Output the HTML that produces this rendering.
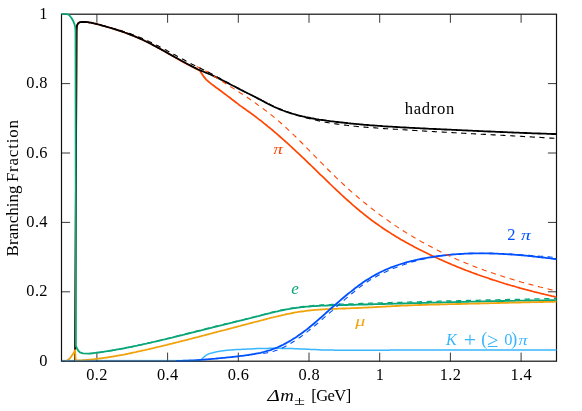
<!DOCTYPE html>
<html><head><meta charset="utf-8"><title>Branching Fraction</title>
<style>html,body{margin:0;padding:0;background:#fff;}svg{display:block;will-change:transform;}body{font-family:"Liberation Serif",serif;}</style></head>
<body>
<svg width="582" height="411" viewBox="0 0 582 411">
<rect width="582" height="411" fill="#fff"/>
<defs><clipPath id="c"><rect x="60.90" y="13.30" width="496.20" height="348.50"/></clipPath></defs>
<path d="M96.9,361.2 v-8.6 M96.9,14.2 v8.6 M167.6,361.2 v-8.6 M167.6,14.2 v8.6 M238.3,361.2 v-8.6 M238.3,14.2 v8.6 M309.0,361.2 v-8.6 M309.0,14.2 v8.6 M379.7,361.2 v-8.6 M379.7,14.2 v8.6 M450.4,361.2 v-8.6 M450.4,14.2 v8.6 M521.1,361.2 v-8.6 M521.1,14.2 v8.6 M61.5,291.8 h8.6 M556.5,291.8 h-8.6 M61.5,222.4 h8.6 M556.5,222.4 h-8.6 M61.5,153.0 h8.6 M556.5,153.0 h-8.6 M61.5,83.6 h8.6 M556.5,83.6 h-8.6" stroke="#222" stroke-width="0.9" fill="none"/>
<rect x="61.5" y="14.2" width="495.0" height="347.0" fill="none" stroke="#111" stroke-width="1.2"/>
<g clip-path="url(#c)" fill="none" stroke-linejoin="round" stroke-linecap="butt">
<path d="M75.1,361.0 L76.6,31.0 L76.8,27.0 L77.0,25.6 L77.5,24.4 L78.2,23.3 L79.1,22.6 L80.2,22.2 L81.6,22.0 L81.6,22.0 L83.1,22.0 L84.7,22.0 L86.2,22.1 L87.7,22.2 L89.3,22.5 L90.8,22.7 L92.3,23.0 L93.9,23.4 L95.4,23.7 L97.0,24.1 L98.5,24.5 L100.0,24.9 L101.6,25.4 L103.1,25.8 L104.6,26.2 L106.2,26.7 L107.7,27.1 L109.2,27.5 L110.8,28.0 L112.3,28.5 L113.8,28.9 L115.4,29.4 L116.9,29.9 L118.4,30.4 L120.0,30.9 L121.5,31.4 L123.0,31.9 L124.6,32.5 L126.1,33.0 L127.7,33.6 L129.2,34.2 L130.7,34.8 L132.3,35.4 L133.8,36.0 L135.3,36.6 L136.9,37.3 L138.4,37.9 L139.9,38.6 L141.5,39.3 L143.0,40.0 L144.5,40.8 L146.1,41.5 L147.6,42.3 L149.1,43.0 L150.7,43.8 L152.2,44.6 L153.7,45.4 L155.3,46.2 L156.8,47.1 L158.4,47.9 L159.9,48.7 L161.4,49.6 L163.0,50.4 L164.5,51.3 L166.0,52.2 L167.6,53.1 L169.1,54.0 L170.6,54.8 L172.2,55.7 L173.7,56.6 L175.2,57.5 L176.8,58.4 L178.3,59.3 L179.8,60.2 L181.4,61.0 L182.9,61.9 L184.4,62.7 L186.0,63.5 L187.5,64.4 L189.1,65.2 L190.6,66.0 L192.1,66.8 L193.7,67.6 L195.2,68.4 L196.7,69.1 L198.3,69.9 L199.8,70.6 L199.9,70.7 L201.5,73.3 L203.4,76.1 L205.4,78.6 L206.8,80.2 L206.8,80.2 L208.4,81.5 L210.0,82.8 L211.6,84.1 L213.2,85.3 L214.8,86.5 L216.4,87.7 L218.0,88.8 L219.6,90.0 L221.2,91.2 L222.8,92.4 L224.5,93.7 L226.1,94.9 L227.7,96.1 L229.3,97.3 L230.9,98.5 L232.5,99.8 L234.1,101.0 L235.7,102.2 L237.3,103.4 L238.9,104.7 L240.5,105.9 L240.5,105.9 L242.0,106.9 L243.5,108.0 L245.0,109.0 L246.5,110.1 L248.1,111.2 L249.6,112.3 L251.1,113.4 L252.6,114.5 L254.1,115.6 L255.6,116.7 L257.1,117.9 L258.6,119.1 L260.2,120.2 L261.7,121.4 L263.2,122.6 L264.7,123.8 L266.2,125.0 L267.7,126.3 L269.2,127.5 L270.7,128.7 L272.3,130.0 L273.8,131.3 L275.3,132.6 L276.8,133.9 L278.3,135.2 L279.8,136.5 L281.3,137.8 L282.8,139.1 L284.3,140.5 L285.9,141.8 L287.4,143.2 L288.9,144.6 L290.4,146.0 L291.9,147.4 L293.4,148.8 L294.9,150.2 L296.4,151.6 L298.0,153.0 L299.5,154.4 L301.0,155.8 L302.5,157.3 L304.0,158.7 L305.5,160.2 L307.0,161.6 L308.5,163.1 L310.1,164.5 L311.6,166.0 L313.1,167.4 L314.6,168.9 L316.1,170.4 L317.6,171.8 L319.1,173.3 L320.6,174.8 L322.1,176.2 L323.7,177.7 L325.2,179.2 L326.7,180.6 L328.2,182.1 L329.7,183.6 L331.2,185.0 L332.7,186.5 L334.2,187.9 L335.8,189.3 L337.3,190.8 L338.8,192.2 L340.3,193.6 L341.8,195.0 L343.3,196.4 L344.8,197.8 L346.3,199.2 L347.8,200.5 L349.4,201.9 L350.9,203.2 L352.4,204.6 L353.9,205.9 L355.4,207.2 L356.9,208.5 L358.4,209.7 L359.9,211.0 L361.5,212.2 L363.0,213.4 L364.5,214.7 L366.0,215.8 L367.5,217.0 L369.0,218.2 L370.5,219.3 L372.0,220.5 L373.6,221.6 L375.1,222.7 L376.6,223.8 L378.1,224.8 L379.6,225.9 L381.1,226.9 L382.6,228.0 L384.1,229.0 L385.6,230.0 L387.2,231.0 L388.7,231.9 L390.2,232.9 L391.7,233.9 L393.2,234.8 L394.7,235.7 L396.2,236.7 L397.7,237.6 L399.3,238.5 L400.8,239.4 L402.3,240.2 L403.8,241.1 L405.3,242.0 L406.8,242.8 L408.3,243.6 L409.8,244.5 L411.4,245.3 L412.9,246.1 L414.4,246.9 L415.9,247.7 L417.4,248.5 L418.9,249.3 L420.4,250.0 L421.9,250.8 L423.4,251.5 L425.0,252.3 L426.5,253.0 L428.0,253.8 L429.5,254.5 L431.0,255.2 L432.5,255.9 L434.0,256.6 L435.5,257.3 L437.1,258.0 L438.6,258.7 L440.1,259.4 L441.6,260.1 L443.1,260.8 L444.6,261.4 L446.1,262.1 L447.6,262.8 L449.2,263.4 L450.7,264.0 L452.2,264.7 L453.7,265.3 L455.2,265.9 L456.7,266.6 L458.2,267.2 L459.7,267.8 L461.2,268.4 L462.8,269.0 L464.3,269.6 L465.8,270.2 L467.3,270.7 L468.8,271.3 L470.3,271.9 L471.8,272.5 L473.3,273.0 L474.9,273.6 L476.4,274.1 L477.9,274.7 L479.4,275.2 L480.9,275.7 L482.4,276.3 L483.9,276.8 L485.4,277.3 L486.9,277.8 L488.5,278.3 L490.0,278.9 L491.5,279.4 L493.0,279.9 L494.5,280.3 L496.0,280.8 L497.5,281.3 L499.0,281.8 L500.6,282.3 L502.1,282.7 L503.6,283.2 L505.1,283.7 L506.6,284.1 L508.1,284.6 L509.6,285.0 L511.1,285.5 L512.7,285.9 L514.2,286.3 L515.7,286.8 L517.2,287.2 L518.7,287.6 L520.2,288.1 L521.7,288.5 L523.2,288.9 L524.7,289.3 L526.3,289.7 L527.8,290.1 L529.3,290.5 L530.8,290.9 L532.3,291.3 L533.8,291.7 L535.3,292.1 L536.8,292.4 L538.4,292.8 L539.9,293.2 L541.4,293.6 L542.9,293.9 L544.4,294.3 L545.9,294.7 L547.4,295.0 L548.9,295.4 L550.5,295.7 L552.0,296.1 L553.5,296.4 L555.0,296.8 L556.5,297.1" stroke="#ff4500" stroke-width="1.7"/>
<path d="M75.1,361.0 L76.6,31.0 L76.8,27.0 L77.0,25.6 L77.5,24.4 L78.2,23.3 L79.1,22.6 L80.2,22.2 L81.6,22.0 L81.6,22.0 L83.1,22.0 L84.7,22.0 L86.2,22.1 L87.7,22.2 L89.3,22.5 L90.8,22.7 L92.3,23.0 L93.9,23.4 L95.4,23.7 L97.0,24.1 L98.5,24.5 L100.0,24.9 L101.6,25.4 L103.1,25.8 L104.6,26.2 L106.2,26.7 L107.7,27.1 L109.2,27.5 L110.8,28.0 L112.3,28.5 L113.8,28.9 L115.4,29.4 L116.9,29.9 L118.4,30.4 L120.0,30.9 L121.5,31.4 L123.0,31.9 L124.6,32.5 L126.1,33.0 L127.7,33.6 L129.2,34.2 L130.7,34.8 L132.3,35.4 L133.8,36.0 L135.3,36.6 L136.9,37.3 L138.4,37.9 L139.9,38.6 L141.5,39.3 L143.0,40.0 L144.5,40.8 L146.1,41.5 L147.6,42.3 L149.1,43.0 L150.7,43.8 L152.2,44.6 L153.7,45.4 L155.3,46.2 L156.8,47.1 L158.4,47.9 L159.9,48.7 L161.4,49.6 L163.0,50.4 L164.5,51.3 L166.0,52.1 L167.6,53.0 L169.1,53.9 L170.6,54.7 L172.2,55.6 L173.7,56.4 L175.2,57.3 L176.8,58.1 L178.3,59.0 L179.8,59.8 L181.4,60.7 L182.9,61.5 L184.4,62.3 L186.0,63.2 L187.5,64.0 L189.1,64.8 L190.6,65.6 L192.1,66.4 L193.7,67.2 L195.2,67.9 L196.7,68.7 L198.3,69.5 L199.8,70.2 L199.8,70.2 L201.3,70.8 L202.8,71.4 L204.3,72.0 L205.8,72.6 L207.4,73.2 L208.9,73.9 L210.4,74.5 L211.9,75.2 L213.4,75.9 L214.9,76.6 L216.4,77.3 L217.9,78.1 L219.4,78.8 L221.0,79.6 L222.5,80.3 L224.0,81.1 L225.5,81.9 L227.0,82.6 L228.5,83.4 L230.0,84.2 L231.5,85.0 L233.1,85.8 L234.6,86.5 L236.1,87.3 L237.6,88.1 L239.1,88.9 L240.6,89.7 L242.1,90.4 L243.6,91.2 L245.1,92.0 L246.7,92.7 L248.2,93.5 L249.7,94.2 L251.2,95.0 L252.7,95.8 L254.2,96.5 L255.7,97.3 L257.2,98.1 L258.7,98.9 L260.3,99.6 L261.8,100.5 L263.3,101.3 L264.8,102.1 L266.3,102.9 L267.8,103.7 L269.3,104.4 L270.8,105.2 L272.3,105.9 L273.9,106.7 L275.4,107.4 L276.9,108.0 L278.4,108.7 L279.9,109.3 L281.4,109.9 L282.9,110.5 L284.4,111.0 L286.0,111.6 L287.5,112.1 L289.0,112.6 L290.5,113.1 L292.0,113.6 L293.5,114.0 L295.0,114.4 L296.5,114.9 L298.0,115.3 L299.6,115.7 L301.1,116.0 L302.6,116.4 L304.1,116.7 L305.6,117.1 L307.1,117.4 L308.6,117.7 L310.1,118.0 L311.6,118.3 L313.2,118.5 L314.7,118.8 L316.2,119.1 L317.7,119.3 L319.2,119.6 L320.7,119.8 L322.2,120.0 L323.7,120.2 L325.2,120.4 L326.8,120.7 L328.3,120.9 L329.8,121.1 L331.3,121.3 L332.8,121.4 L334.3,121.6 L335.8,121.8 L337.3,122.0 L338.9,122.2 L340.4,122.4 L341.9,122.5 L343.4,122.7 L344.9,122.9 L346.4,123.0 L347.9,123.2 L349.4,123.3 L350.9,123.5 L352.5,123.6 L354.0,123.8 L355.5,123.9 L357.0,124.1 L358.5,124.2 L360.0,124.4 L361.5,124.5 L363.0,124.6 L364.5,124.8 L366.1,124.9 L367.6,125.0 L369.1,125.1 L370.6,125.3 L372.1,125.4 L373.6,125.5 L375.1,125.6 L376.6,125.7 L378.1,125.8 L379.7,125.9 L381.2,126.0 L382.7,126.2 L384.2,126.3 L385.7,126.4 L387.2,126.5 L388.7,126.6 L390.2,126.7 L391.8,126.7 L393.3,126.8 L394.8,126.9 L396.3,127.0 L397.8,127.1 L399.3,127.2 L400.8,127.3 L402.3,127.4 L403.8,127.5 L405.4,127.5 L406.9,127.6 L408.4,127.7 L409.9,127.8 L411.4,127.9 L412.9,127.9 L414.4,128.0 L415.9,128.1 L417.4,128.2 L419.0,128.2 L420.5,128.3 L422.0,128.4 L423.5,128.5 L425.0,128.5 L426.5,128.6 L428.0,128.7 L429.5,128.8 L431.1,128.8 L432.6,128.9 L434.1,129.0 L435.6,129.0 L437.1,129.1 L438.6,129.2 L440.1,129.2 L441.6,129.3 L443.1,129.4 L444.7,129.5 L446.2,129.5 L447.7,129.6 L449.2,129.7 L450.7,129.7 L452.2,129.8 L453.7,129.9 L455.2,129.9 L456.7,130.0 L458.3,130.1 L459.8,130.2 L461.3,130.2 L462.8,130.3 L464.3,130.4 L465.8,130.4 L467.3,130.5 L468.8,130.6 L470.3,130.6 L471.9,130.7 L473.4,130.8 L474.9,130.9 L476.4,130.9 L477.9,131.0 L479.4,131.1 L480.9,131.1 L482.4,131.2 L484.0,131.3 L485.5,131.3 L487.0,131.4 L488.5,131.5 L490.0,131.5 L491.5,131.6 L493.0,131.7 L494.5,131.7 L496.0,131.8 L497.6,131.9 L499.1,131.9 L500.6,132.0 L502.1,132.0 L503.6,132.1 L505.1,132.2 L506.6,132.2 L508.1,132.3 L509.6,132.4 L511.2,132.4 L512.7,132.5 L514.2,132.6 L515.7,132.6 L517.2,132.7 L518.7,132.7 L520.2,132.8 L521.7,132.9 L523.2,132.9 L524.8,133.0 L526.3,133.0 L527.8,133.1 L529.3,133.1 L530.8,133.2 L532.3,133.3 L533.8,133.3 L535.3,133.4 L536.9,133.4 L538.4,133.5 L539.9,133.5 L541.4,133.6 L542.9,133.6 L544.4,133.7 L545.9,133.7 L547.4,133.8 L548.9,133.9 L550.5,133.9 L552.0,134.0 L553.5,134.0 L555.0,134.0 L556.5,134.1" stroke="#000" stroke-width="1.8"/>
<path d="M61.5,13.9 L66.7,13.9 L68.0,14.4 L69.3,15.2 L71.3,17.7 L73.1,20.8 L74.4,23.9 L75.2,27.0 L75.5,30.6 L75.9,345.9 L76.4,347.3 L77.1,348.5 L78.1,350.5 L79.9,352.3 L83.0,353.4 L89.2,353.6 L89.2,353.6 L90.7,353.4 L92.2,353.3 L93.7,353.1 L95.2,352.9 L96.7,352.7 L98.2,352.5 L99.8,352.3 L101.3,352.1 L102.8,351.9 L104.3,351.7 L105.8,351.4 L107.3,351.2 L108.8,351.0 L110.3,350.7 L111.8,350.5 L113.3,350.2 L114.8,350.0 L116.3,349.7 L117.8,349.4 L119.3,349.2 L120.9,348.9 L122.4,348.6 L123.9,348.3 L125.4,348.0 L126.9,347.7 L128.4,347.4 L129.9,347.1 L131.4,346.8 L132.9,346.5 L134.4,346.2 L135.9,345.9 L137.4,345.6 L138.9,345.2 L140.5,344.9 L142.0,344.6 L143.5,344.2 L145.0,343.9 L146.5,343.6 L148.0,343.2 L149.5,342.9 L151.0,342.6 L152.5,342.2 L154.0,341.9 L155.5,341.5 L157.0,341.2 L158.5,340.8 L160.0,340.5 L161.6,340.1 L163.1,339.7 L164.6,339.4 L166.1,339.0 L167.6,338.7 L169.1,338.3 L170.6,337.9 L172.1,337.6 L173.6,337.2 L175.1,336.8 L176.6,336.5 L178.1,336.1 L179.6,335.7 L181.2,335.3 L182.7,335.0 L184.2,334.6 L185.7,334.2 L187.2,333.8 L188.7,333.5 L190.2,333.1 L191.7,332.7 L193.2,332.3 L194.7,332.0 L196.2,331.6 L197.7,331.2 L199.2,330.8 L200.7,330.5 L202.3,330.1 L203.8,329.7 L205.3,329.3 L206.8,328.9 L208.3,328.6 L209.8,328.2 L211.3,327.8 L212.8,327.4 L214.3,327.0 L215.8,326.7 L217.3,326.3 L218.8,325.9 L220.3,325.5 L221.9,325.2 L223.4,324.8 L224.9,324.4 L226.4,324.1 L227.9,323.7 L229.4,323.3 L230.9,322.9 L232.4,322.6 L233.9,322.2 L235.4,321.8 L236.9,321.4 L238.4,321.1 L239.9,320.7 L241.4,320.3 L243.0,320.0 L244.5,319.6 L246.0,319.2 L247.5,318.8 L249.0,318.4 L250.5,318.1 L252.0,317.7 L253.5,317.3 L255.0,316.9 L256.5,316.5 L258.0,316.2 L259.5,315.8 L261.0,315.4 L262.6,315.0 L264.1,314.6 L265.6,314.2 L267.1,313.8 L268.6,313.5 L270.1,313.1 L271.6,312.7 L273.1,312.3 L274.6,312.0 L276.1,311.6 L277.6,311.3 L279.1,310.9 L280.6,310.6 L282.1,310.3 L283.7,310.0 L285.2,309.7 L286.7,309.4 L288.2,309.1 L289.7,308.9 L291.2,308.6 L292.7,308.4 L294.2,308.2 L295.7,308.0 L297.2,307.7 L298.7,307.6 L300.2,307.4 L301.7,307.2 L303.3,307.0 L304.8,306.9 L306.3,306.7 L307.8,306.6 L309.3,306.5 L310.8,306.4 L312.3,306.2 L313.8,306.1 L315.3,306.1 L316.8,306.0 L318.3,305.9 L319.8,305.8 L321.3,305.7 L322.9,305.7 L324.4,305.6 L325.9,305.6 L327.4,305.5 L328.9,305.4 L330.4,305.4 L331.9,305.4 L333.4,305.3 L334.9,305.3 L336.4,305.2 L337.9,305.2 L339.4,305.2 L340.9,305.1 L342.4,305.1 L344.0,305.0 L345.5,305.0 L347.0,305.0 L348.5,304.9 L350.0,304.9 L351.5,304.8 L353.0,304.8 L354.5,304.8 L356.0,304.7 L357.5,304.7 L359.0,304.7 L360.5,304.6 L362.0,304.6 L363.6,304.5 L365.1,304.5 L366.6,304.5 L368.1,304.4 L369.6,304.4 L371.1,304.3 L372.6,304.3 L374.1,304.2 L375.6,304.2 L377.1,304.2 L378.6,304.1 L380.1,304.1 L381.6,304.0 L383.1,304.0 L384.7,304.0 L386.2,303.9 L387.7,303.9 L389.2,303.8 L390.7,303.8 L392.2,303.8 L393.7,303.7 L395.2,303.7 L396.7,303.6 L398.2,303.6 L399.7,303.6 L401.2,303.5 L402.7,303.5 L404.3,303.4 L405.8,303.4 L407.3,303.3 L408.8,303.3 L410.3,303.3 L411.8,303.2 L413.3,303.2 L414.8,303.1 L416.3,303.1 L417.8,303.1 L419.3,303.0 L420.8,303.0 L422.3,302.9 L423.8,302.9 L425.4,302.9 L426.9,302.8 L428.4,302.8 L429.9,302.7 L431.4,302.7 L432.9,302.7 L434.4,302.6 L435.9,302.6 L437.4,302.5 L438.9,302.5 L440.4,302.5 L441.9,302.4 L443.4,302.4 L445.0,302.3 L446.5,302.3 L448.0,302.3 L449.5,302.2 L451.0,302.2 L452.5,302.1 L454.0,302.1 L455.5,302.1 L457.0,302.0 L458.5,302.0 L460.0,302.0 L461.5,301.9 L463.0,301.9 L464.5,301.8 L466.1,301.8 L467.6,301.8 L469.1,301.7 L470.6,301.7 L472.1,301.7 L473.6,301.6 L475.1,301.6 L476.6,301.6 L478.1,301.5 L479.6,301.5 L481.1,301.4 L482.6,301.4 L484.1,301.4 L485.7,301.3 L487.2,301.3 L488.7,301.3 L490.2,301.2 L491.7,301.2 L493.2,301.2 L494.7,301.1 L496.2,301.1 L497.7,301.1 L499.2,301.1 L500.7,301.0 L502.2,301.0 L503.7,301.0 L505.2,300.9 L506.8,300.9 L508.3,300.9 L509.8,300.8 L511.3,300.8 L512.8,300.8 L514.3,300.8 L515.8,300.7 L517.3,300.7 L518.8,300.7 L520.3,300.6 L521.8,300.6 L523.3,300.6 L524.8,300.6 L526.4,300.5 L527.9,300.5 L529.4,300.5 L530.9,300.5 L532.4,300.4 L533.9,300.4 L535.4,300.4 L536.9,300.4 L538.4,300.3 L539.9,300.3 L541.4,300.3 L542.9,300.3 L544.4,300.3 L545.9,300.2 L547.5,300.2 L549.0,300.2 L550.5,300.2 L552.0,300.2 L553.5,300.1 L555.0,300.1 L556.5,300.1" stroke="#0aa678" stroke-width="1.8"/>
<path d="M66.5,361.0 L68.5,359.6 L70.5,357.6 L73.0,354.1 L75.1,350.1 L75.7,360.3 L80.0,360.4 L80.0,360.4 L81.5,360.3 L83.0,360.2 L84.5,360.1 L86.0,360.0 L87.5,359.9 L89.0,359.7 L90.6,359.6 L92.1,359.4 L93.6,359.3 L95.1,359.1 L96.6,358.9 L98.1,358.7 L99.6,358.5 L101.1,358.3 L102.6,358.1 L104.1,357.9 L105.6,357.7 L107.1,357.5 L108.7,357.2 L110.2,357.0 L111.7,356.7 L113.2,356.5 L114.7,356.2 L116.2,356.0 L117.7,355.7 L119.2,355.4 L120.7,355.1 L122.2,354.8 L123.7,354.6 L125.2,354.3 L126.7,354.0 L128.3,353.7 L129.8,353.3 L131.3,353.0 L132.8,352.7 L134.3,352.4 L135.8,352.1 L137.3,351.7 L138.8,351.4 L140.3,351.1 L141.8,350.7 L143.3,350.4 L144.8,350.1 L146.3,349.7 L147.9,349.4 L149.4,349.0 L150.9,348.7 L152.4,348.3 L153.9,348.0 L155.4,347.6 L156.9,347.2 L158.4,346.9 L159.9,346.5 L161.4,346.2 L162.9,345.8 L164.4,345.4 L166.0,345.1 L167.5,344.7 L169.0,344.3 L170.5,343.9 L172.0,343.6 L173.5,343.2 L175.0,342.8 L176.5,342.4 L178.0,342.1 L179.5,341.7 L181.0,341.3 L182.5,340.9 L184.0,340.5 L185.6,340.2 L187.1,339.8 L188.6,339.4 L190.1,339.0 L191.6,338.6 L193.1,338.2 L194.6,337.8 L196.1,337.4 L197.6,337.1 L199.1,336.7 L200.6,336.3 L202.1,335.9 L203.6,335.5 L205.2,335.1 L206.7,334.7 L208.2,334.3 L209.7,333.9 L211.2,333.5 L212.7,333.1 L214.2,332.7 L215.7,332.3 L217.2,331.9 L218.7,331.5 L220.2,331.1 L221.7,330.7 L223.3,330.4 L224.8,330.0 L226.3,329.6 L227.8,329.2 L229.3,328.8 L230.8,328.4 L232.3,328.0 L233.8,327.6 L235.3,327.2 L236.8,326.8 L238.3,326.4 L239.8,326.0 L241.3,325.6 L242.9,325.2 L244.4,324.8 L245.9,324.4 L247.4,324.0 L248.9,323.6 L250.4,323.2 L251.9,322.8 L253.4,322.4 L254.9,322.0 L256.4,321.6 L257.9,321.3 L259.4,320.9 L260.9,320.5 L262.5,320.1 L264.0,319.7 L265.5,319.3 L267.0,318.9 L268.5,318.5 L270.0,318.1 L271.5,317.7 L273.0,317.4 L274.5,317.0 L276.0,316.6 L277.5,316.3 L279.0,315.9 L280.6,315.6 L282.1,315.2 L283.6,314.9 L285.1,314.5 L286.6,314.2 L288.1,313.9 L289.6,313.6 L291.1,313.3 L292.6,313.0 L294.1,312.7 L295.6,312.4 L297.1,312.2 L298.6,311.9 L300.2,311.7 L301.7,311.5 L303.2,311.3 L304.7,311.1 L306.2,310.9 L307.7,310.7 L309.2,310.5 L310.7,310.4 L312.2,310.2 L313.7,310.1 L315.2,309.9 L316.7,309.8 L318.2,309.7 L319.8,309.6 L321.3,309.5 L322.8,309.4 L324.3,309.3 L325.8,309.2 L327.3,309.1 L328.8,309.1 L330.3,309.0 L331.8,308.9 L333.3,308.9 L334.8,308.8 L336.3,308.8 L337.9,308.7 L339.4,308.6 L340.9,308.6 L342.4,308.5 L343.9,308.5 L345.4,308.5 L346.9,308.4 L348.4,308.4 L349.9,308.3 L351.4,308.2 L352.9,308.2 L354.4,308.1 L355.9,308.1 L357.5,308.0 L359.0,307.9 L360.5,307.9 L362.0,307.8 L363.5,307.7 L365.0,307.7 L366.5,307.6 L368.0,307.5 L369.5,307.4 L371.0,307.4 L372.5,307.3 L374.0,307.2 L375.6,307.1 L377.1,307.0 L378.6,306.9 L380.1,306.9 L381.6,306.8 L383.1,306.7 L384.6,306.6 L386.1,306.5 L387.6,306.4 L389.1,306.3 L390.6,306.3 L392.1,306.2 L393.6,306.1 L395.2,306.0 L396.7,306.0 L398.2,305.9 L399.7,305.8 L401.2,305.7 L402.7,305.7 L404.2,305.6 L405.7,305.5 L407.2,305.5 L408.7,305.4 L410.2,305.3 L411.7,305.3 L413.2,305.2 L414.8,305.2 L416.3,305.1 L417.8,305.1 L419.3,305.0 L420.8,305.0 L422.3,304.9 L423.8,304.9 L425.3,304.8 L426.8,304.8 L428.3,304.7 L429.8,304.7 L431.3,304.7 L432.9,304.6 L434.4,304.6 L435.9,304.5 L437.4,304.5 L438.9,304.5 L440.4,304.4 L441.9,304.4 L443.4,304.4 L444.9,304.3 L446.4,304.3 L447.9,304.2 L449.4,304.2 L450.9,304.2 L452.5,304.1 L454.0,304.1 L455.5,304.1 L457.0,304.0 L458.5,304.0 L460.0,304.0 L461.5,303.9 L463.0,303.9 L464.5,303.9 L466.0,303.8 L467.5,303.8 L469.0,303.7 L470.5,303.7 L472.1,303.7 L473.6,303.6 L475.1,303.6 L476.6,303.6 L478.1,303.5 L479.6,303.5 L481.1,303.4 L482.6,303.4 L484.1,303.4 L485.6,303.3 L487.1,303.3 L488.6,303.3 L490.2,303.2 L491.7,303.2 L493.2,303.1 L494.7,303.1 L496.2,303.1 L497.7,303.0 L499.2,303.0 L500.7,302.9 L502.2,302.9 L503.7,302.9 L505.2,302.8 L506.7,302.8 L508.2,302.8 L509.8,302.7 L511.3,302.7 L512.8,302.6 L514.3,302.6 L515.8,302.6 L517.3,302.5 L518.8,302.5 L520.3,302.5 L521.8,302.4 L523.3,302.4 L524.8,302.4 L526.3,302.3 L527.8,302.3 L529.4,302.3 L530.9,302.2 L532.4,302.2 L533.9,302.2 L535.4,302.1 L536.9,302.1 L538.4,302.1 L539.9,302.0 L541.4,302.0 L542.9,302.0 L544.4,301.9 L545.9,301.9 L547.5,301.9 L549.0,301.8 L550.5,301.8 L552.0,301.8 L553.5,301.8 L555.0,301.7 L556.5,301.7" stroke="#f0a30a" stroke-width="1.8"/>
<path d="M200.7,360.3 L201.7,359.1 L202.7,358.2 L203.7,357.3 L204.7,356.4 L205.7,355.5 L206.7,354.8 L207.7,354.3 L208.7,353.9 L209.7,353.5 L210.8,353.2 L211.8,352.9 L212.8,352.7 L213.8,352.4 L214.8,352.2 L215.8,351.9 L216.8,351.7 L217.8,351.6 L218.8,351.4 L219.8,351.2 L220.8,351.1 L221.8,350.9 L222.8,350.8 L223.8,350.7 L224.8,350.6 L225.8,350.5 L226.8,350.3 L227.8,350.2 L228.8,350.2 L229.8,350.1 L230.9,350.0 L231.9,349.9 L232.9,349.8 L233.9,349.7 L234.9,349.7 L235.9,349.6 L236.9,349.5 L237.9,349.5 L238.9,349.4 L239.9,349.4 L240.9,349.4 L241.9,349.3 L242.9,349.3 L243.9,349.2 L244.9,349.2 L245.9,349.2 L246.9,349.1 L247.9,349.1 L248.9,349.0 L249.9,349.0 L251.0,348.9 L252.0,348.9 L253.0,348.8 L254.0,348.8 L255.0,348.7 L256.0,348.6 L257.0,348.6 L258.0,348.6 L259.0,348.5 L260.0,348.5 L261.0,348.5 L262.0,348.5 L263.0,348.4 L264.0,348.4 L265.0,348.4 L266.0,348.4 L267.0,348.4 L268.0,348.4 L269.0,348.3 L270.1,348.3 L271.1,348.3 L272.1,348.3 L273.1,348.3 L274.1,348.3 L275.1,348.3 L276.1,348.3 L277.1,348.3 L278.1,348.3 L279.1,348.3 L280.1,348.3 L281.1,348.4 L282.1,348.4 L283.1,348.4 L284.1,348.4 L285.1,348.4 L286.1,348.5 L287.1,348.5 L288.1,348.5 L289.1,348.5 L290.2,348.6 L291.2,348.6 L292.2,348.6 L293.2,348.6 L294.2,348.7 L295.2,348.7 L296.2,348.8 L297.2,348.8 L298.2,348.8 L299.2,348.9 L300.2,348.9 L301.2,349.0 L302.2,349.0 L303.2,349.1 L304.2,349.1 L305.2,349.1 L306.2,349.2 L307.2,349.2 L308.2,349.3 L309.2,349.3 L310.3,349.4 L311.3,349.4 L312.3,349.5 L313.3,349.5 L314.3,349.6 L315.3,349.6 L316.3,349.6 L317.3,349.7 L318.3,349.7 L319.3,349.8 L320.3,349.8 L321.3,349.9 L322.3,349.9 L323.3,349.9 L324.3,350.0 L325.3,350.0 L326.3,350.0 L327.3,350.0 L328.3,350.1 L329.4,350.1 L330.4,350.1 L331.4,350.1 L332.4,350.1 L333.4,350.1 L334.4,350.2 L335.4,350.2 L336.4,350.2 L337.4,350.2 L338.4,350.2 L339.4,350.2 L340.4,350.2 L341.4,350.2 L342.4,350.2 L343.4,350.2 L344.4,350.2 L345.4,350.2 L346.4,350.2 L347.4,350.2 L348.4,350.2 L349.5,350.2 L350.5,350.2 L351.5,350.2 L352.5,350.2 L353.5,350.2 L354.5,350.2 L355.5,350.2 L356.5,350.2 L357.5,350.2 L358.5,350.2 L359.5,350.2 L360.5,350.2 L361.5,350.2 L362.5,350.2 L363.5,350.2 L364.5,350.2 L365.5,350.2 L366.5,350.2 L367.5,350.2 L368.5,350.2 L369.6,350.2 L370.6,350.2 L371.6,350.2 L372.6,350.2 L373.6,350.2 L374.6,350.2 L375.6,350.2 L376.6,350.2 L377.6,350.2 L378.6,350.2 L379.6,350.2 L380.6,350.2 L381.6,350.2 L382.6,350.2 L383.6,350.2 L384.6,350.2 L385.6,350.2 L386.6,350.2 L387.6,350.2 L388.7,350.2 L389.7,350.2 L390.7,350.1 L391.7,350.1 L392.7,350.1 L393.7,350.1 L394.7,350.1 L395.7,350.1 L396.7,350.1 L397.7,350.1 L398.7,350.1 L399.7,350.1 L400.7,350.1 L401.7,350.1 L402.7,350.1 L403.7,350.1 L404.7,350.1 L405.7,350.1 L406.7,350.1 L407.7,350.1 L408.8,350.1 L409.8,350.1 L410.8,350.1 L411.8,350.1 L412.8,350.1 L413.8,350.1 L414.8,350.1 L415.8,350.1 L416.8,350.1 L417.8,350.1 L418.8,350.1 L419.8,350.1 L420.8,350.1 L421.8,350.1 L422.8,350.1 L423.8,350.1 L424.8,350.1 L425.8,350.1 L426.8,350.1 L427.8,350.1 L428.9,350.1 L429.9,350.1 L430.9,350.1 L431.9,350.1 L432.9,350.1 L433.9,350.1 L434.9,350.1 L435.9,350.1 L436.9,350.1 L437.9,350.1 L438.9,350.1 L439.9,350.1 L440.9,350.1 L441.9,350.1 L442.9,350.1 L443.9,350.1 L444.9,350.1 L445.9,350.1 L446.9,350.1 L448.0,350.1 L449.0,350.1 L450.0,350.1 L451.0,350.1 L452.0,350.1 L453.0,350.1 L454.0,350.1 L455.0,350.1 L456.0,350.1 L457.0,350.1 L458.0,350.1 L459.0,350.1 L460.0,350.1 L461.0,350.1 L462.0,350.1 L463.0,350.1 L464.0,350.1 L465.0,350.1 L466.0,350.1 L467.0,350.1 L468.1,350.1 L469.1,350.1 L470.1,350.1 L471.1,350.1 L472.1,350.1 L473.1,350.1 L474.1,350.1 L475.1,350.1 L476.1,350.1 L477.1,350.1 L478.1,350.1 L479.1,350.1 L480.1,350.1 L481.1,350.1 L482.1,350.1 L483.1,350.1 L484.1,350.1 L485.1,350.1 L486.1,350.1 L487.1,350.1 L488.2,350.1 L489.2,350.1 L490.2,350.1 L491.2,350.1 L492.2,350.1 L493.2,350.1 L494.2,350.1 L495.2,350.1 L496.2,350.1 L497.2,350.1 L498.2,350.1 L499.2,350.1 L500.2,350.1 L501.2,350.1 L502.2,350.1 L503.2,350.1 L504.2,350.1 L505.2,350.1 L506.2,350.1 L507.3,350.1 L508.3,350.1 L509.3,350.1 L510.3,350.1 L511.3,350.1 L512.3,350.1 L513.3,350.1 L514.3,350.1 L515.3,350.1 L516.3,350.1 L517.3,350.1 L518.3,350.1 L519.3,350.1 L520.3,350.1 L521.3,350.1 L522.3,350.1 L523.3,350.1 L524.3,350.1 L525.3,350.1 L526.3,350.1 L527.4,350.1 L528.4,350.1 L529.4,350.1 L530.4,350.1 L531.4,350.1 L532.4,350.1 L533.4,350.1 L534.4,350.1 L535.4,350.1 L536.4,350.1 L537.4,350.1 L538.4,350.1 L539.4,350.1 L540.4,350.1 L541.4,350.1 L542.4,350.1 L543.4,350.1 L544.4,350.1 L545.4,350.1 L546.4,350.1 L547.5,350.1 L548.5,350.1 L549.5,350.1 L550.5,350.1 L551.5,350.1 L552.5,350.1 L553.5,350.1 L554.5,350.1 L555.5,350.1 L556.5,350.1" stroke="#38b6ff" stroke-width="1.5"/>
<path d="M176.0,360.9 L177.5,360.9 L179.0,360.8 L180.5,360.8 L182.0,360.8 L183.5,360.7 L185.1,360.7 L186.6,360.6 L188.1,360.6 L189.6,360.5 L191.1,360.4 L192.6,360.4 L194.1,360.3 L195.6,360.2 L197.1,360.1 L198.6,360.0 L200.2,359.9 L201.7,359.8 L203.2,359.7 L204.7,359.6 L206.2,359.4 L207.7,359.3 L209.2,359.2 L210.7,359.1 L212.2,358.9 L213.7,358.8 L215.3,358.7 L216.8,358.5 L218.3,358.4 L219.8,358.2 L221.3,358.1 L222.8,357.9 L224.3,357.8 L225.8,357.6 L227.3,357.4 L228.8,357.3 L230.4,357.1 L231.9,357.0 L233.4,356.8 L234.9,356.6 L236.4,356.5 L237.9,356.3 L239.4,356.1 L240.9,355.9 L242.4,355.8 L243.9,355.6 L245.5,355.4 L247.0,355.2 L248.5,355.0 L250.0,354.7 L251.5,354.5 L253.0,354.2 L254.5,354.0 L256.0,353.7 L257.5,353.4 L259.0,353.1 L260.6,352.8 L262.1,352.4 L263.6,352.0 L265.1,351.6 L266.6,351.2 L268.1,350.7 L269.6,350.3 L271.1,349.8 L272.6,349.2 L274.1,348.7 L275.7,348.1 L277.2,347.5 L278.7,346.8 L280.2,346.1 L281.7,345.4 L283.2,344.7 L284.7,343.9 L286.2,343.1 L287.7,342.2 L289.2,341.4 L290.8,340.5 L292.3,339.6 L293.8,338.6 L295.3,337.7 L296.8,336.7 L298.3,335.6 L299.8,334.6 L301.3,333.5 L302.8,332.4 L304.3,331.3 L305.9,330.1 L307.4,329.0 L308.9,327.8 L310.4,326.5 L311.9,325.3 L313.4,324.0 L314.9,322.7 L316.4,321.4 L317.9,320.1 L319.4,318.8 L321.0,317.5 L322.5,316.1 L324.0,314.8 L325.5,313.4 L327.0,312.0 L328.5,310.7 L330.0,309.3 L331.5,308.0 L333.0,306.7 L334.5,305.3 L336.1,304.0 L337.6,302.7 L339.1,301.4 L340.6,300.1 L342.1,298.8 L343.6,297.5 L345.1,296.3 L346.6,295.0 L348.1,293.8 L349.6,292.6 L351.2,291.4 L352.7,290.2 L354.2,289.0 L355.7,287.8 L357.2,286.7 L358.7,285.6 L360.2,284.5 L361.7,283.4 L363.2,282.3 L364.7,281.3 L366.2,280.3 L367.8,279.4 L369.3,278.4 L370.8,277.5 L372.3,276.6 L373.8,275.7 L375.3,274.9 L376.8,274.1 L378.3,273.3 L379.8,272.5 L381.3,271.7 L382.9,271.0 L384.4,270.3 L385.9,269.6 L387.4,269.0 L388.9,268.4 L390.4,267.7 L391.9,267.1 L393.4,266.6 L394.9,266.0 L396.4,265.5 L398.0,265.0 L399.5,264.5 L401.0,264.0 L402.5,263.5 L404.0,263.1 L405.5,262.6 L407.0,262.2 L408.5,261.8 L410.0,261.4 L411.5,261.0 L413.1,260.7 L414.6,260.3 L416.1,260.0 L417.6,259.6 L419.1,259.3 L420.6,259.0 L422.1,258.7 L423.6,258.4 L425.1,258.1 L426.6,257.9 L428.2,257.6 L429.7,257.3 L431.2,257.1 L432.7,256.9 L434.2,256.6 L435.7,256.4 L437.2,256.2 L438.7,256.0 L440.2,255.8 L441.7,255.6 L443.3,255.4 L444.8,255.3 L446.3,255.1 L447.8,254.9 L449.3,254.8 L450.8,254.6 L452.3,254.5 L453.8,254.4 L455.3,254.3 L456.8,254.2 L458.4,254.1 L459.9,254.0 L461.4,253.9 L462.9,253.8 L464.4,253.7 L465.9,253.7 L467.4,253.6 L468.9,253.5 L470.4,253.5 L471.9,253.5 L473.5,253.4 L475.0,253.4 L476.5,253.4 L478.0,253.4 L479.5,253.4 L481.0,253.4 L482.5,253.4 L484.0,253.4 L485.5,253.4 L487.0,253.4 L488.6,253.4 L490.1,253.5 L491.6,253.5 L493.1,253.6 L494.6,253.6 L496.1,253.7 L497.6,253.7 L499.1,253.8 L500.6,253.9 L502.1,253.9 L503.7,254.0 L505.2,254.1 L506.7,254.2 L508.2,254.3 L509.7,254.4 L511.2,254.5 L512.7,254.6 L514.2,254.7 L515.7,254.8 L517.2,254.9 L518.8,255.1 L520.3,255.2 L521.8,255.3 L523.3,255.4 L524.8,255.6 L526.3,255.7 L527.8,255.9 L529.3,256.0 L530.8,256.2 L532.3,256.3 L533.9,256.5 L535.4,256.7 L536.9,256.8 L538.4,257.0 L539.9,257.2 L541.4,257.3 L542.9,257.5 L544.4,257.7 L545.9,257.9 L547.4,258.1 L549.0,258.2 L550.5,258.4 L552.0,258.6 L553.5,258.8 L555.0,259.0 L556.5,259.2" stroke="#0050ff" stroke-width="1.8"/>
<path d="M196.7,66.5 L198.3,67.3 L199.8,68.0 L199.8,68.0 L201.3,68.7 L202.8,69.4 L204.3,70.1 L205.8,70.9 L207.4,71.6 L208.9,72.4 L210.0,73.6 L211.5,74.6 L213.0,75.6 L214.5,76.5 L216.0,77.5 L217.5,78.4 L219.0,79.4 L220.5,80.3 L222.1,81.3 L223.6,82.2 L225.1,83.2 L226.6,84.1 L228.1,85.1 L229.6,86.0 L231.1,87.0 L232.6,87.9 L234.1,88.9 L235.6,89.8 L237.1,90.8 L238.6,91.8 L240.1,92.8 L241.6,93.7 L243.1,94.7 L244.7,95.7 L246.2,96.7 L247.7,97.7 L249.2,98.7 L250.7,99.8 L252.2,100.8 L253.7,101.9 L255.2,102.9 L256.7,104.0 L258.2,105.1 L259.7,106.1 L261.2,107.2 L262.7,108.4 L264.2,109.5 L265.7,110.6 L267.2,111.8 L268.8,113.0 L270.3,114.2 L271.8,115.4 L273.3,116.6 L274.8,117.8 L276.3,119.1 L277.8,120.4 L279.3,121.7 L280.8,123.0 L282.3,124.3 L283.8,125.7 L285.3,127.0 L286.8,128.4 L288.3,129.8 L289.8,131.3 L291.4,132.7 L292.9,134.1 L294.4,135.6 L295.9,137.0 L297.4,138.5 L298.9,140.0 L300.4,141.5 L301.9,143.0 L303.4,144.5 L304.9,146.0 L306.4,147.6 L307.9,149.1 L309.4,150.6 L310.9,152.1 L312.4,153.7 L313.9,155.2 L315.5,156.8 L317.0,158.3 L318.5,159.8 L320.0,161.4 L321.5,162.9 L323.0,164.4 L324.5,165.9 L326.0,167.5 L327.5,169.0 L329.0,170.5 L330.5,172.0 L332.0,173.5 L333.5,175.0 L335.0,176.4 L336.5,177.9 L338.1,179.3 L339.6,180.8 L341.1,182.2 L342.6,183.6 L344.1,185.0 L345.6,186.4 L347.1,187.8 L348.6,189.1 L350.1,190.5 L351.6,191.8 L353.1,193.1 L354.6,194.4 L356.1,195.7 L357.6,197.0 L359.1,198.3 L360.7,199.6 L362.2,200.8 L363.7,202.1 L365.2,203.3 L366.7,204.5 L368.2,205.7 L369.7,206.9 L371.2,208.1 L372.7,209.3 L374.2,210.4 L375.7,211.6 L377.2,212.7 L378.7,213.9 L380.2,215.0 L381.7,216.1 L383.2,217.2 L384.8,218.3 L386.3,219.3 L387.8,220.4 L389.3,221.5 L390.8,222.5 L392.3,223.5 L393.8,224.6 L395.3,225.6 L396.8,226.6 L398.3,227.6 L399.8,228.6 L401.3,229.5 L402.8,230.5 L404.3,231.5 L405.8,232.4 L407.4,233.3 L408.9,234.3 L410.4,235.2 L411.9,236.1 L413.4,237.0 L414.9,237.9 L416.4,238.8 L417.9,239.6 L419.4,240.5 L420.9,241.4 L422.4,242.2 L423.9,243.0 L425.4,243.9 L426.9,244.7 L428.4,245.5 L430.0,246.3 L431.5,247.1 L433.0,247.9 L434.5,248.7 L436.0,249.4 L437.5,250.2 L439.0,250.9 L440.5,251.7 L442.0,252.4 L443.5,253.2 L445.0,253.9 L446.5,254.6 L448.0,255.3 L449.5,256.0 L451.0,256.7 L452.6,257.4 L454.1,258.0 L455.6,258.7 L457.1,259.4 L458.6,260.0 L460.1,260.7 L461.6,261.3 L463.1,262.0 L464.6,262.6 L466.1,263.2 L467.6,263.8 L469.1,264.4 L470.6,265.0 L472.1,265.6 L473.6,266.2 L475.1,266.8 L476.7,267.4 L478.2,267.9 L479.7,268.5 L481.2,269.1 L482.7,269.6 L484.2,270.2 L485.7,270.7 L487.2,271.2 L488.7,271.8 L490.2,272.3 L491.7,272.8 L493.2,273.3 L494.7,273.8 L496.2,274.3 L497.7,274.8 L499.3,275.3 L500.8,275.8 L502.3,276.3 L503.8,276.8 L505.3,277.3 L506.8,277.7 L508.3,278.2 L509.8,278.6 L511.3,279.1 L512.8,279.5 L514.3,280.0 L515.8,280.4 L517.3,280.9 L518.8,281.3 L520.3,281.7 L521.9,282.2 L523.4,282.6 L524.9,283.0 L526.4,283.4 L527.9,283.8 L529.4,284.2 L530.9,284.6 L532.4,285.0 L533.9,285.4 L535.4,285.8 L536.9,286.2 L538.4,286.6 L539.9,287.0 L541.4,287.3 L542.9,287.7 L544.4,288.1 L546.0,288.5 L547.5,288.8 L549.0,289.2 L550.5,289.6 L552.0,289.9 L553.5,290.3 L555.0,290.6 L556.5,291.0" stroke="#ff4500" stroke-width="1.1" stroke-dasharray="5.2 4.6"/>
<path d="M81.6,22.0 L83.1,22.0 L84.7,22.0 L86.2,22.1 L87.7,22.2 L89.3,22.5 L90.8,22.7 L92.3,23.0 L93.9,23.4 L95.4,23.7 L97.0,24.1 L98.5,24.5 L100.0,24.9 L101.6,25.3 L103.1,25.7 L104.6,26.1 L106.2,26.5 L107.7,26.9 L109.2,27.3 L110.8,27.7 L112.3,28.1 L113.8,28.5 L115.4,28.9 L116.9,29.4 L118.4,29.8 L120.0,30.3 L121.5,30.8 L123.0,31.3 L124.6,31.7 L126.1,32.2 L127.7,32.8 L129.2,33.3 L130.7,33.8 L132.3,34.4 L133.8,35.0 L135.3,35.6 L136.9,36.2 L138.4,36.8 L139.9,37.4 L141.5,38.0 L143.0,38.7 L144.5,39.4 L146.1,40.1 L147.6,40.8 L149.1,41.5 L150.7,42.2 L152.2,43.0 L153.7,43.7 L155.3,44.5 L156.8,45.3 L158.4,46.1 L159.9,46.9 L161.4,47.7 L163.0,48.5 L164.5,49.3 L166.0,50.1 L167.6,51.0 L169.1,51.8 L170.6,52.6 L172.2,53.5 L173.7,54.3 L175.2,55.1 L176.8,56.0 L178.3,56.8 L179.8,57.6 L181.4,58.5 L182.9,59.3 L184.4,60.1 L186.0,61.0 L187.5,61.8 L189.1,62.6 L190.6,63.4 L192.1,64.2 L193.7,65.0 L195.2,65.7 L196.7,66.5 L198.3,67.3 L199.8,68.0 L199.8,68.0 L201.3,68.7 L202.8,69.4 L204.3,70.1 L205.8,70.9 L207.4,71.6 L208.9,72.4 L210.4,73.2 L211.9,74.0 L213.4,74.8 L214.9,75.6 L216.4,76.4 L217.9,77.3 L219.4,78.1 L221.0,79.0 L222.5,79.8 L224.0,80.6 L225.5,81.4 L227.0,82.2 L228.5,83.0 L230.0,83.9 L231.5,84.7 L233.1,85.5 L234.6,86.4 L236.1,87.2 L237.6,88.0 L239.1,88.9 L240.6,89.7 L242.1,90.4 L243.6,91.2 L245.1,92.0 L246.7,92.7 L248.2,93.5 L249.7,94.2 L251.2,95.0 L252.7,95.8 L254.2,96.5 L255.7,97.3 L257.2,98.1 L258.7,98.9 L260.3,99.6 L261.8,100.5 L262.0,100.4 L263.5,101.2 L265.0,102.0 L266.5,102.8 L268.0,103.6 L269.6,104.3 L271.1,105.0 L272.6,105.7 L274.1,106.4 L275.6,107.1 L277.1,107.8 L278.6,108.4 L280.1,109.0 L281.6,109.6 L283.1,110.3 L284.7,110.8 L286.2,111.4 L287.7,112.0 L289.2,112.5 L290.7,113.1 L292.2,113.6 L293.7,114.1 L295.2,114.6 L296.7,115.1 L298.2,115.5 L299.8,116.0 L301.3,116.5 L302.8,116.9 L304.3,117.3 L305.8,117.7 L307.3,118.1 L308.8,118.5 L310.3,118.9 L311.8,119.3 L313.3,119.6 L314.9,120.0 L316.4,120.3 L317.9,120.6 L319.4,121.0 L320.9,121.3 L322.4,121.6 L323.9,121.9 L325.4,122.2 L326.9,122.4 L328.5,122.7 L330.0,123.0 L331.5,123.2 L333.0,123.4 L334.5,123.7 L336.0,123.9 L337.5,124.1 L339.0,124.3 L340.5,124.6 L342.0,124.8 L343.6,125.0 L345.1,125.1 L346.6,125.3 L348.1,125.5 L349.6,125.7 L351.1,125.8 L352.6,126.0 L354.1,126.2 L355.6,126.3 L357.1,126.5 L358.7,126.6 L360.2,126.7 L361.7,126.9 L363.2,127.0 L364.7,127.1 L366.2,127.3 L367.7,127.4 L369.2,127.5 L370.7,127.6 L372.2,127.7 L373.8,127.8 L375.3,127.9 L376.8,128.0 L378.3,128.2 L379.8,128.3 L381.3,128.4 L382.8,128.5 L384.3,128.6 L385.8,128.7 L387.4,128.8 L388.9,128.9 L390.4,129.0 L391.9,129.0 L393.4,129.1 L394.9,129.2 L396.4,129.3 L397.9,129.4 L399.4,129.5 L400.9,129.6 L402.5,129.7 L404.0,129.8 L405.5,129.9 L407.0,130.0 L408.5,130.1 L410.0,130.2 L411.5,130.3 L413.0,130.4 L414.5,130.5 L416.0,130.5 L417.6,130.6 L419.1,130.7 L420.6,130.8 L422.1,130.9 L423.6,131.0 L425.1,131.1 L426.6,131.2 L428.1,131.3 L429.6,131.3 L431.1,131.4 L432.7,131.5 L434.2,131.6 L435.7,131.7 L437.2,131.8 L438.7,131.9 L440.2,132.0 L441.7,132.0 L443.2,132.1 L444.7,132.2 L446.3,132.3 L447.8,132.4 L449.3,132.5 L450.8,132.5 L452.3,132.6 L453.8,132.7 L455.3,132.8 L456.8,132.9 L458.3,133.0 L459.8,133.0 L461.4,133.1 L462.9,133.2 L464.4,133.3 L465.9,133.4 L467.4,133.5 L468.9,133.5 L470.4,133.6 L471.9,133.7 L473.4,133.8 L474.9,133.9 L476.5,134.0 L478.0,134.0 L479.5,134.1 L481.0,134.2 L482.5,134.3 L484.0,134.4 L485.5,134.4 L487.0,134.5 L488.5,134.6 L490.0,134.7 L491.6,134.8 L493.1,134.9 L494.6,134.9 L496.1,135.0 L497.6,135.1 L499.1,135.2 L500.6,135.3 L502.1,135.3 L503.6,135.4 L505.2,135.5 L506.7,135.6 L508.2,135.7 L509.7,135.8 L511.2,135.8 L512.7,135.9 L514.2,136.0 L515.7,136.1 L517.2,136.2 L518.7,136.3 L520.3,136.3 L521.8,136.4 L523.3,136.5 L524.8,136.6 L526.3,136.7 L527.8,136.8 L529.3,136.8 L530.8,136.9 L532.3,137.0 L533.8,137.1 L535.4,137.2 L536.9,137.3 L538.4,137.4 L539.9,137.4 L541.4,137.5 L542.9,137.6 L544.4,137.7 L545.9,137.8 L547.4,137.9 L548.9,138.0 L550.5,138.1 L552.0,138.1 L553.5,138.2 L555.0,138.3 L556.5,138.4" stroke="#000" stroke-width="1.1" stroke-dasharray="5.2 4.6"/>
<path d="M89.2,353.6 L90.7,353.5 L92.2,353.3 L93.7,353.1 L95.2,352.9 L96.7,352.8 L98.2,352.6 L99.8,352.4 L101.3,352.1 L102.8,351.9 L104.3,351.7 L105.8,351.5 L107.3,351.2 L108.8,351.0 L110.3,350.7 L111.8,350.5 L113.3,350.2 L114.8,350.0 L116.3,349.7 L117.8,349.4 L119.3,349.1 L120.9,348.9 L122.4,348.6 L123.9,348.3 L125.4,348.0 L126.9,347.7 L128.4,347.4 L129.9,347.1 L131.4,346.8 L132.9,346.5 L134.4,346.1 L135.9,345.8 L137.4,345.5 L138.9,345.2 L140.5,344.8 L142.0,344.5 L143.5,344.2 L145.0,343.8 L146.5,343.5 L148.0,343.1 L149.5,342.8 L151.0,342.4 L152.5,342.1 L154.0,341.7 L155.5,341.4 L157.0,341.0 L158.5,340.7 L160.0,340.3 L161.6,339.9 L163.1,339.6 L164.6,339.2 L166.1,338.8 L167.6,338.4 L169.1,338.1 L170.6,337.7 L172.1,337.3 L173.6,336.9 L175.1,336.6 L176.6,336.2 L178.1,335.8 L179.6,335.4 L181.2,335.0 L182.7,334.6 L184.2,334.3 L185.7,333.9 L187.2,333.5 L188.7,333.1 L190.2,332.7 L191.7,332.3 L193.2,331.9 L194.7,331.6 L196.2,331.2 L197.7,330.8 L199.2,330.4 L200.7,330.0 L202.3,329.6 L203.8,329.2 L205.3,328.9 L206.8,328.5 L208.3,328.1 L209.8,327.7 L211.3,327.3 L212.8,327.0 L214.3,326.6 L215.8,326.2 L217.3,325.8 L218.8,325.5 L220.3,325.1 L221.9,324.7 L223.4,324.4 L224.9,324.0 L226.4,323.6 L227.9,323.3 L229.4,322.9 L230.9,322.5 L232.4,322.2 L233.9,321.8 L235.4,321.5 L236.9,321.1 L238.4,320.7 L239.9,320.4 L241.4,320.0 L243.0,319.6 L244.5,319.3 L246.0,318.9 L247.5,318.5 L249.0,318.2 L250.5,317.8 L252.0,317.4 L253.5,317.1 L255.0,316.7 L256.5,316.3 L258.0,315.9 L259.5,315.5 L261.0,315.1 L262.6,314.7 L264.1,314.3 L265.6,314.0 L267.1,313.6 L268.6,313.2 L270.1,312.8 L271.6,312.4 L273.1,312.0 L274.6,311.7 L276.1,311.3 L277.6,310.9 L279.1,310.6 L280.6,310.2 L282.1,309.9 L283.7,309.6 L285.2,309.3 L286.7,309.0 L288.2,308.7 L289.7,308.5 L291.2,308.2 L292.7,308.0 L294.2,307.7 L295.7,307.5 L297.2,307.3 L298.7,307.1 L300.2,306.9 L301.7,306.7 L303.3,306.5 L304.8,306.4 L306.3,306.2 L307.8,306.1 L309.3,305.9 L310.8,305.8 L312.3,305.7 L313.8,305.5 L315.3,305.4 L316.8,305.3 L318.3,305.2 L319.8,305.1 L321.3,305.0 L322.9,305.0 L324.4,304.9 L325.9,304.8 L327.4,304.7 L328.9,304.7 L330.4,304.6 L331.9,304.5 L333.4,304.5 L334.9,304.4 L336.4,304.4 L337.9,304.3 L339.4,304.3 L340.9,304.2 L342.4,304.2 L344.0,304.1 L345.5,304.0 L347.0,304.0 L348.5,303.9 L350.0,303.9 L351.5,303.8 L353.0,303.8 L354.5,303.7 L356.0,303.7 L357.5,303.6 L359.0,303.6 L360.5,303.5 L362.0,303.5 L363.6,303.4 L365.1,303.4 L366.6,303.3 L368.1,303.3 L369.6,303.2 L371.1,303.2 L372.6,303.1 L374.1,303.1 L375.6,303.1 L377.1,303.0 L378.6,303.0 L380.1,302.9 L381.6,302.9 L383.1,302.8 L384.7,302.8 L386.2,302.7 L387.7,302.7 L389.2,302.6 L390.7,302.6 L392.2,302.5 L393.7,302.5 L395.2,302.5 L396.7,302.4 L398.2,302.4 L399.7,302.3 L401.2,302.3 L402.7,302.2 L404.3,302.2 L405.8,302.2 L407.3,302.1 L408.8,302.1 L410.3,302.0 L411.8,302.0 L413.3,301.9 L414.8,301.9 L416.3,301.9 L417.8,301.8 L419.3,301.8 L420.8,301.7 L422.3,301.7 L423.8,301.6 L425.4,301.6 L426.9,301.6 L428.4,301.5 L429.9,301.5 L431.4,301.4 L432.9,301.4 L434.4,301.4 L435.9,301.3 L437.4,301.3 L438.9,301.2 L440.4,301.2 L441.9,301.2 L443.4,301.1 L445.0,301.1 L446.5,301.0 L448.0,301.0 L449.5,301.0 L451.0,300.9 L452.5,300.9 L454.0,300.9 L455.5,300.8 L457.0,300.8 L458.5,300.7 L460.0,300.7 L461.5,300.7 L463.0,300.6 L464.5,300.6 L466.1,300.6 L467.6,300.5 L469.1,300.5 L470.6,300.4 L472.1,300.4 L473.6,300.4 L475.1,300.3 L476.6,300.3 L478.1,300.3 L479.6,300.2 L481.1,300.2 L482.6,300.1 L484.1,300.1 L485.7,300.1 L487.2,300.0 L488.7,300.0 L490.2,300.0 L491.7,299.9 L493.2,299.9 L494.7,299.9 L496.2,299.8 L497.7,299.8 L499.2,299.7 L500.7,299.7 L502.2,299.7 L503.7,299.6 L505.2,299.6 L506.8,299.6 L508.3,299.5 L509.8,299.5 L511.3,299.5 L512.8,299.4 L514.3,299.4 L515.8,299.4 L517.3,299.3 L518.8,299.3 L520.3,299.3 L521.8,299.2 L523.3,299.2 L524.8,299.1 L526.4,299.1 L527.9,299.1 L529.4,299.0 L530.9,299.0 L532.4,299.0 L533.9,298.9 L535.4,298.9 L536.9,298.9 L538.4,298.8 L539.9,298.8 L541.4,298.8 L542.9,298.7 L544.4,298.7 L545.9,298.6 L547.5,298.6 L549.0,298.6 L550.5,298.5 L552.0,298.5 L553.5,298.5 L555.0,298.4 L556.5,298.4" stroke="#0aa678" stroke-width="1.3" stroke-dasharray="5.2 4.6"/>
<path d="M263.0,353.3 L264.5,353.2 L266.0,353.0 L267.5,352.7 L269.1,352.4 L270.6,352.1 L272.1,351.7 L273.6,351.3 L275.1,350.8 L276.6,350.3 L278.1,349.7 L279.6,349.1 L281.2,348.4 L282.7,347.7 L284.2,347.0 L285.7,346.2 L287.2,345.4 L288.7,344.6 L290.2,343.7 L291.7,342.8 L293.3,341.8 L294.8,340.9 L296.3,339.9 L297.8,338.8 L299.3,337.8 L300.8,336.7 L302.3,335.6 L303.8,334.5 L305.4,333.3 L306.9,332.1 L308.4,330.9 L309.9,329.7 L311.4,328.5 L312.9,327.3 L314.4,326.0 L316.0,324.7 L317.5,323.5 L319.0,322.2 L320.5,320.9 L322.0,319.6 L323.5,318.2 L325.0,316.9 L326.5,315.6 L328.1,314.3 L329.6,312.9 L331.1,311.6 L332.6,310.3 L334.1,308.9 L335.6,307.6 L337.1,306.3 L338.6,305.0 L340.2,303.6 L341.7,302.3 L343.2,301.0 L344.7,299.7 L346.2,298.4 L347.7,297.1 L349.2,295.8 L350.7,294.5 L352.3,293.2 L353.8,292.0 L355.3,290.7 L356.8,289.5 L358.3,288.3 L359.8,287.1 L361.3,286.0 L362.9,284.9 L364.4,283.8 L365.9,282.8 L367.4,281.8 L368.9,280.8 L370.4,279.9 L371.9,279.0 L373.4,278.1 L375.0,277.2 L376.5,276.4 L378.0,275.6 L379.5,274.8 L381.0,274.0 L382.5,273.3 L384.0,272.6 L385.5,271.9 L387.1,271.2 L388.6,270.5 L390.1,269.9 L391.6,269.2 L393.1,268.6 L394.6,268.0 L396.1,267.4 L397.6,266.8 L399.2,266.3 L400.7,265.7 L402.2,265.2 L403.7,264.7 L405.2,264.2 L406.7,263.7 L408.2,263.2 L409.8,262.7 L411.3,262.3 L412.8,261.8 L414.3,261.4 L415.8,261.0 L417.3,260.6 L418.8,260.2 L420.3,259.8 L421.9,259.5 L423.4,259.1 L424.9,258.8 L426.4,258.5 L427.9,258.2 L429.4,257.8 L430.9,257.6 L432.4,257.3 L434.0,257.0 L435.5,256.7 L437.0,256.5 L438.5,256.3 L440.0,256.0 L441.5,255.8 L443.0,255.6 L444.5,255.4 L446.1,255.2 L447.6,255.0 L449.1,254.9 L450.6,254.7 L452.1,254.5 L453.6,254.4 L455.1,254.3 L456.6,254.1 L458.2,254.0 L459.7,253.9 L461.2,253.8 L462.7,253.7 L464.2,253.6 L465.7,253.6 L467.2,253.5 L468.8,253.4 L470.3,253.4 L471.8,253.3 L473.3,253.3 L474.8,253.3 L476.3,253.2 L477.8,253.2 L479.3,253.2 L480.9,253.2 L482.4,253.2 L483.9,253.2 L485.4,253.2 L486.9,253.2 L488.4,253.2 L489.9,253.3 L491.4,253.3 L493.0,253.3 L494.5,253.4 L496.0,253.4 L497.5,253.5 L499.0,253.5 L500.5,253.6 L502.0,253.7 L503.5,253.7 L505.1,253.8 L506.6,253.9 L508.1,254.0 L509.6,254.0 L511.1,254.1 L512.6,254.2 L514.1,254.3 L515.7,254.4 L517.2,254.5 L518.7,254.6 L520.2,254.7 L521.7,254.8 L523.2,254.9 L524.7,255.0 L526.2,255.1 L527.8,255.3 L529.3,255.4 L530.8,255.5 L532.3,255.6 L533.8,255.7 L535.3,255.8 L536.8,256.0 L538.3,256.1 L539.9,256.2 L541.4,256.3 L542.9,256.4 L544.4,256.6 L545.9,256.7 L547.4,256.8 L548.9,256.9 L550.4,257.0 L552.0,257.2 L553.5,257.3 L555.0,257.4 L556.5,257.5" stroke="#0050ff" stroke-width="1.1" stroke-dasharray="5.2 4.6"/>
<path d="M62.0,360.2 H200" stroke="#38b6ff" stroke-width="0.9" opacity="0.45"/>
<path d="M61.0,361.2 H200.5" stroke="#19497a" stroke-width="1.3"/>
</g>
<g font-family="'Liberation Serif', serif" font-size="16px" fill="#000">
<text x="47.9" y="365.8" text-anchor="end" font-size="16.4px" letter-spacing="0.35">0</text>
<text x="47.9" y="296.4" text-anchor="end" font-size="16.4px" letter-spacing="0.35">0.2</text>
<text x="47.9" y="227.0" text-anchor="end" font-size="16.4px" letter-spacing="0.35">0.4</text>
<text x="47.9" y="157.6" text-anchor="end" font-size="16.4px" letter-spacing="0.35">0.6</text>
<text x="47.9" y="88.2" text-anchor="end" font-size="16.4px" letter-spacing="0.35">0.8</text>
<text x="47.9" y="18.8" text-anchor="end" font-size="16.4px" letter-spacing="0.35">1</text>
<text x="97.1" y="380.3" text-anchor="middle" font-size="16.4px" letter-spacing="0.35">0.2</text>
<text x="167.8" y="380.3" text-anchor="middle" font-size="16.4px" letter-spacing="0.35">0.4</text>
<text x="238.5" y="380.3" text-anchor="middle" font-size="16.4px" letter-spacing="0.35">0.6</text>
<text x="309.2" y="380.3" text-anchor="middle" font-size="16.4px" letter-spacing="0.35">0.8</text>
<text x="379.9" y="380.3" text-anchor="middle" font-size="16.4px" letter-spacing="0.35">1</text>
<text x="450.6" y="380.3" text-anchor="middle" font-size="16.4px" letter-spacing="0.35">1.2</text>
<text x="521.3" y="380.3" text-anchor="middle" font-size="16.4px" letter-spacing="0.35">1.4</text>
<text transform="translate(18.3,256.4) rotate(-90)" font-size="17px" textLength="71" lengthAdjust="spacing">Branching</text>
<text transform="translate(18.3,182.1) rotate(-90)" font-size="17px" textLength="62" lengthAdjust="spacing">Fraction</text>
<text x="404.8" y="113.5" font-size="16.6px" textLength="49.6" lengthAdjust="spacing">hadron</text>
<text x="273.2" y="154" fill="#ff4500" font-style="italic" font-size="14.6px" textLength="9.6" lengthAdjust="spacingAndGlyphs">π</text>
<text x="291.3" y="293.8" fill="#0aa678" font-style="italic" font-size="17px">e</text>
<text x="355.3" y="326" fill="#f0a30a" font-style="italic" font-size="15.5px" textLength="10" lengthAdjust="spacingAndGlyphs">μ</text>
<text x="507.3" y="239.8" fill="#0050ff" font-size="16.5px">2</text>
<text x="520.9" y="239.8" fill="#0050ff" font-style="italic" font-size="15px" textLength="9.8" lengthAdjust="spacingAndGlyphs">π</text>
<g fill="#38b6ff"><text x="446" y="344.9" font-style="italic">K</text><text x="463.8" y="347.2" font-size="22px">+</text><text x="481.2" y="345.3" font-size="18px">(</text><text x="486.9" y="347.2" font-size="20.5px">≥</text><text x="504.2" y="345.1" font-size="16.4px">0</text><text x="511.2" y="345.3" font-size="18px">)</text><text x="518.4" y="345.1" font-style="italic" font-size="15px" textLength="9" lengthAdjust="spacingAndGlyphs">π</text></g>
<text x="267.6" y="401.4" font-style="italic" font-size="17.5px" textLength="12.4" lengthAdjust="spacingAndGlyphs">Δ</text>
<text x="280.2" y="401.4" font-style="italic" font-size="17px" textLength="13.6" lengthAdjust="spacingAndGlyphs">m</text>
<text x="294" y="405.2" font-size="13.5px" textLength="11" lengthAdjust="spacingAndGlyphs">±</text>
<text x="311.2" y="401.4" font-size="16.5px" textLength="40" lengthAdjust="spacing">[GeV]</text>
</g>
</svg>
</body></html>
